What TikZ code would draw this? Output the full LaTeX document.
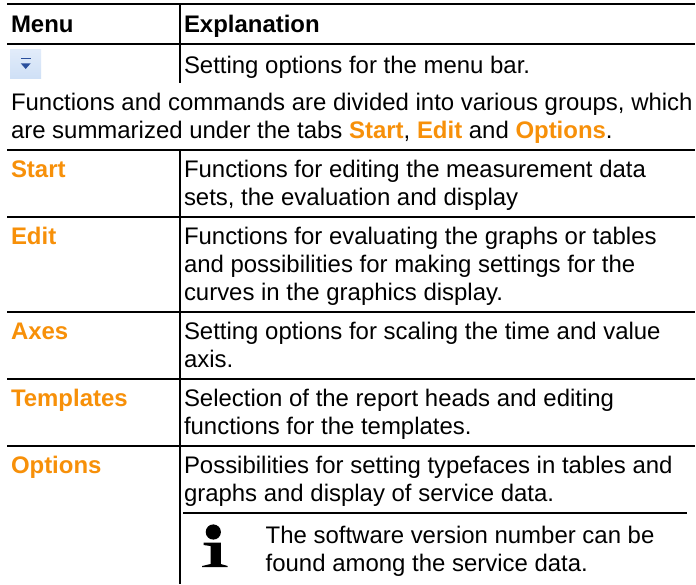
\documentclass[tikz,border=0pt]{standalone}
\usepackage{fontspec}
\setmainfont{Liberation Sans}
\definecolor{tabor}{HTML}{F79009}
\definecolor{btnlight}{HTML}{E2ECFA}
\definecolor{btndark}{HTML}{CFE0F6}
\definecolor{btnglyph}{HTML}{2A4F9C}
\newcommand{\orng}[1]{\textbf{\textcolor{tabor}{#1}}}
\tikzset{
 rule/.style={line width=1.6pt,black},
 txt/.style={anchor=base west,inner sep=0pt,outer sep=0pt,align=left,font=\fontsize{23.95pt}{27.6pt}\selectfont,text=black},
 head/.style={txt,font=\fontsize{23.95pt}{27.6pt}\selectfont\bfseries,text=black},
 tab/.style={txt,font=\fontsize{23.95pt}{27.6pt}\selectfont\bfseries,text=tabor}
}
\begin{document}
\begin{tikzpicture}[x=1pt,y=-1pt]
\useasboundingbox (0,0) rectangle (696,584);
\fill[white] (0,0) rectangle (696,584);
% header table
\coordinate (t1l) at (7,4); \coordinate (t1r) at (695,4);
\coordinate (h1l) at (7,43.7); \coordinate (h1r) at (695,43.7);
\coordinate (v1a) at (180,4); \coordinate (v1b) at (180,83);
\draw[rule] (t1l) -- (t1r);
\draw[rule] (h1l) -- (h1r);
\draw[rule] (v1a) -- (v1b);
\node[head] (menu) at (11,32) {Menu};
\node[head] (expl) at (184,32) {Explanation};
\shade[top color=btnlight,bottom color=btndark] (10,49) rectangle (41,78);
\fill[btnglyph] (20.7,57.5) rectangle (30.7,59.2);
\fill[btnglyph] (20.7,63.3) -- (30.7,63.3) -- (25.7,69) -- cycle;
\node[txt] (set) at (184,73) {Setting options for the menu bar.};
\node[txt] (intro) at (11,138) {Functions and commands are divided into various groups, which\\are summarized under the tabs \orng{Start}, \orng{Edit} and \orng{Options}.};
% main table
\foreach \y/\n in {150/a,216.7/b,311.7/c,378.7/d,445.7/e}{
 \coordinate (l\n) at (7,\y); \coordinate (r\n) at (695,\y);
 \draw[rule] (l\n) -- (r\n);
}
\coordinate (v2a) at (180,150); \coordinate (v2b) at (180,584);
\draw[rule] (v2a) -- (v2b);
\coordinate (nl) at (183,513); \coordinate (nr) at (687,513);
\draw[rule] (nl) -- (nr);
\node[tab] (s1) at (11,177.5) {Start};
\node[txt] (s2) at (184,205) {Functions for editing the measurement data\\sets, the evaluation and display};
\node[tab] (e1) at (11,244) {Edit};
\node[txt] (e2) at (184,300) {Functions for evaluating the graphs or tables\\and possibilities for making settings for the\\curves in the graphics display.};
\node[tab] (a1) at (11,339.5) {Axes};
\node[txt] (a2) at (184,367) {Setting options for scaling the time and value\\axis.};
\node[tab] (m1) at (11,406.5) {Templates};
\node[txt] (m2) at (184,434) {Selection of the report heads and editing\\functions for the templates.};
\node[tab] (o1) at (11,473.5) {Options};
\node[txt] (o2) at (184,501.5) {Possibilities for setting typefaces in tables and\\graphs and display of service data.};
\node[txt] (note) at (265.7,571) {The software version number can be\\found among the service data.};
% info icon
\fill[black] (213.3,532) circle (7.6);
\fill[black] (203.5,542.5) -- (220.8,542.5) -- (220.8,564) -- (227.7,566) -- (227.7,567) -- (202.2,567) -- (202.2,566) -- (210.5,564) -- (210.5,546) -- (203.5,545) -- cycle;
\end{tikzpicture}
\end{document}
